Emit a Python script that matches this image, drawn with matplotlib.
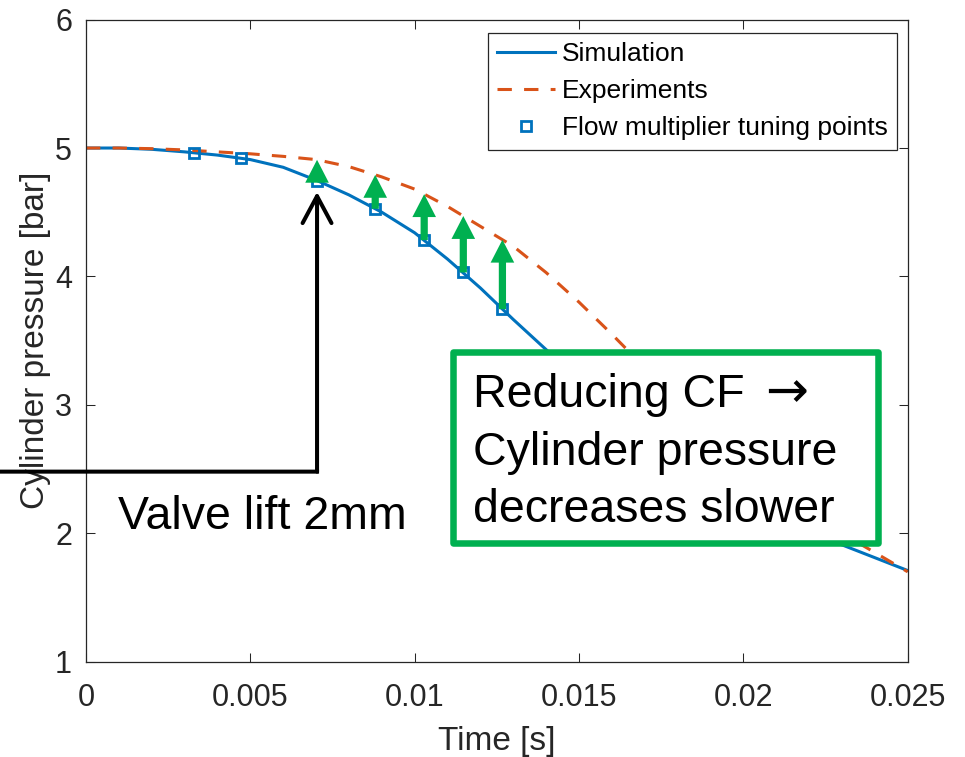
import numpy as np
import matplotlib.pyplot as plt
from matplotlib.patches import Rectangle

plt.rcParams['font.family'] = ['Liberation Sans', 'DejaVu Sans']

# values
t_sim = [0, 0.001, 0.002, 0.003, 0.004, 0.005, 0.006, 0.007, 0.008, 0.009,
         0.010, 0.011, 0.012, 0.013, 0.014, 0.015, 0.016, 0.017, 0.018, 0.019,
         0.020, 0.021, 0.022, 0.023, 0.024, 0.025]
p_sim = [5.0, 5.0, 4.99, 4.97, 4.945, 4.91, 4.85, 4.75, 4.635, 4.50,
         4.34, 4.135, 3.91, 3.665, 3.43, 3.19, 2.96, 2.74, 2.54, 2.37,
         2.22, 2.10, 2.00, 1.91, 1.81, 1.71]

t_exp = t_sim
p_exp = [5.0, 5.0, 4.995, 4.985, 4.97, 4.955, 4.935, 4.91, 4.855, 4.775,
         4.68, 4.545, 4.39, 4.235, 4.03, 3.80, 3.55, 3.29, 3.03, 2.78,
         2.55, 2.34, 2.16, 2.00, 1.85, 1.70]

t_tune = [0.00329, 0.00472, 0.00703, 0.0088, 0.01029, 0.01148, 0.01267]
p_tune = [4.963, 4.924, 4.745, 4.527, 4.283, 4.031, 3.745]

x_ticks = [0, 0.005, 0.01, 0.015, 0.02, 0.025]
x_ticklabels = ['0', '0.005', '0.01', '0.015', '0.02', '0.025']
y_ticks = [1, 2, 3, 4, 5, 6]

note_lines = ['Reducing CF', 'Cylinder pressure', 'decreases slower']

valve_y = 2.48  # height of the "valve lift" bracket

blue = '#0072BD'
orange = '#D95319'
green = '#00B050'
dark = '#262626'

fig = plt.figure(figsize=(9.65, 7.57), dpi=100)
ax = fig.add_axes([0.0891, 0.1259, 0.8515, 0.8482])

ax.plot(t_sim, p_sim, color=blue, lw=2.2, label='Simulation')
ax.plot(t_exp, p_exp, color=orange, lw=2.2, ls='--', dashes=(4.7, 4.0),
        label='Experiments')
ax.plot(t_tune, p_tune, ls='none', marker='s', ms=7.5, mew=2.0,
        mfc='none', mec=blue, label='Flow multiplier tuning points')

ax.set_xlim(0, 0.025)
ax.set_ylim(1, 6)
ax.set_xticks(x_ticks)
ax.set_xticklabels(x_ticklabels)
ax.set_yticks(y_ticks)
ax.tick_params(direction='in', length=6.5, width=0.75, top=True, right=True,
               labelsize=22, colors=dark)
ax.tick_params(axis='x', pad=15)
ax.tick_params(axis='y', pad=10)
for s in ax.spines.values():
    s.set_color(dark)
    s.set_linewidth(0.9)
ax.set_xlabel('Time [s]', fontsize=24, color=dark, labelpad=10)
ax.set_ylabel('Cylinder pressure [bar]', fontsize=24, color=dark, labelpad=3)

leg = ax.legend(loc='upper right', bbox_to_anchor=(0.987, 0.9796),
                borderaxespad=0, fontsize=19, handlelength=2.2,
                handletextpad=0.25, borderpad=0.35, labelspacing=0.5,
                fancybox=False, framealpha=1, edgecolor=dark)
leg.get_frame().set_linewidth(0.9)

# green arrows: simulation -> experiments at the tuned points
for tx, ty in zip(t_tune[2:], p_tune[2:]):
    ax.annotate('', xy=(tx, np.interp(tx, t_exp, p_exp)), xytext=(tx, ty),
                arrowprops=dict(arrowstyle='simple,head_length=16.5,head_width=17,tail_width=5.2',
                                mutation_scale=1, color=green, lw=0,
                                shrinkA=0, shrinkB=0), zorder=4)

# valve lift bracket
ax.annotate('', xy=(t_tune[2], valve_y), xytext=(0, valve_y),
            textcoords=('figure fraction', 'data'),
            arrowprops=dict(arrowstyle='-', color='k', lw=2.9, shrinkA=0,
                            shrinkB=0, capstyle='projecting'), zorder=5)
ax.annotate('', xy=(t_tune[2], p_tune[2]), xytext=(t_tune[2], valve_y),
            arrowprops=dict(arrowstyle='->,head_length=19.4,head_width=10.4',
                            mutation_scale=1, color='k', lw=2.9, shrinkA=0,
                            shrinkB=8), zorder=5)
ax.text(0.0393, 0.2062, 'Valve lift 2mm', transform=ax.transAxes,
        fontsize=33.5, color='k', va='baseline', ha='left', zorder=5)

# green note box
ax.add_patch(Rectangle((0.4472, 0.1841), 0.5172, 0.2990, transform=ax.transAxes,
                       facecolor='white', edgecolor=green, lw=4.7,
                       joinstyle='round', clip_on=False, zorder=6))
for line, yb in zip(note_lines, [0.3967, 0.3061, 0.2176]):
    ax.text(0.4711, yb, line, transform=ax.transAxes, fontsize=33.5,
            color='k', va='baseline', ha='left', zorder=7)
ax.text(0.827, 0.3967, '\u2192', transform=ax.transAxes, fontsize=37,
        family='DejaVu Sans', color='k', va='baseline', ha='left', zorder=7)

fig.savefig('out.png', dpi=100)
